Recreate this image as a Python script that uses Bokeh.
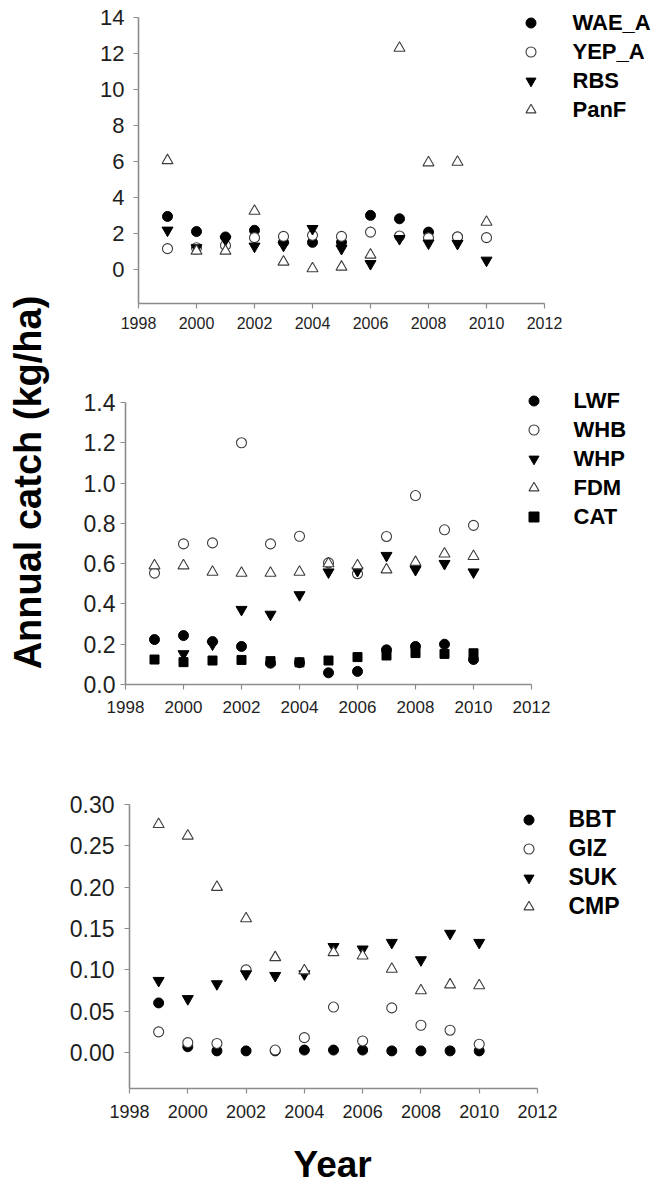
import numpy as np
from bokeh.plotting import figure
from bokeh.models import (Legend, LegendItem, FixedTicker, PrintfTickFormatter,
                          Label, Range1d, Spacer, Title)
from bokeh.layouts import row, column
from bokeh.embed import file_html
from bokeh.resources import INLINE

nan = float("nan")
years = [1999, 2000, 2001, 2002, 2003, 2004, 2005, 2006, 2007, 2008, 2009, 2010]
x_ticks = [1998, 2000, 2002, 2004, 2006, 2008, 2010, 2012]

# Panel 1
wae_a = [2.94, 2.10, 1.80, 2.17, 1.50, 1.50, 1.50, 3.00, 2.81, 2.07, 1.80, nan]
yep_a = [1.15, 1.20, 1.33, 1.76, 1.83, 1.89, 1.83, 2.07, 1.85, 1.75, 1.80, 1.76]
rbs = [2.17, 1.19, 1.65, 1.28, 1.33, 2.26, 1.15, 0.31, 1.70, 1.45, 1.43, 0.50]
panf = [6.05, 1.02, 1.02, 3.24, 0.41, 0.04, 0.13, 0.80, 12.30, 5.93, 5.96, 2.63]
y1_ticks = [0, 2, 4, 6, 8, 10, 12, 14]

# Panel 2
lwf = [0.223, 0.243, 0.213, 0.189, 0.106, 0.108, 0.058, 0.065, 0.172, 0.189, 0.200, 0.124]
whb = [0.553, 0.698, 0.703, 1.200, 0.698, 0.736, 0.604, 0.550, 0.735, 0.938, 0.768, 0.790]
whp = [nan, 0.152, 0.200, 0.372, 0.348, 0.445, 0.558, 0.565, 0.640, 0.570, 0.600, 0.558]
fdm = [0.590, 0.590, 0.558, 0.553, 0.553, 0.558, 0.600, 0.590, 0.570, 0.607, 0.649, 0.636]
cat = [0.124, 0.111, 0.119, 0.122, 0.116, 0.110, 0.119, 0.136, 0.144, 0.156, 0.152, 0.155]
y2_ticks = [0.0, 0.2, 0.4, 0.6, 0.8, 1.0, 1.2, 1.4]

# Panel 3
bbt = [0.060, 0.007, 0.002, 0.002, 0.002, 0.003, 0.003, 0.003, 0.002, 0.002, 0.002, 0.002]
giz = [0.025, 0.012, 0.011, 0.100, 0.003, 0.018, 0.055, 0.014, 0.054, 0.033, 0.027, 0.010]
suk = [0.087, 0.065, 0.083, 0.095, 0.093, 0.095, 0.128, 0.125, 0.133, 0.112, 0.144, 0.133]
cmp_ = [0.276, 0.262, 0.200, 0.162, 0.115, 0.099, 0.121, 0.117, 0.101, 0.075, 0.082, 0.081]
y3_ticks = [0.0, 0.05, 0.10, 0.15, 0.20, 0.25, 0.30]

FONT = "Liberation Sans"
AXIS_COL = "#8c8c8c"
OPEN_COL = "#3c3c3c"

STYLES = {
    "filled_circle": dict(marker="circle", size=10, fill_color="black", line_color="black"),
    "open_circle": dict(marker="circle", size=10, fill_color="white", line_color=OPEN_COL, line_width=1.1),
    "down_tri": dict(marker="inverted_triangle", size=11, fill_color="black", line_color="black"),
    "open_tri": dict(marker="triangle", size=11, fill_color="white", line_color=OPEN_COL, line_width=1.1),
    "square": dict(marker="square", size=9, fill_color="black", line_color="black"),
}

TOTAL_W = 657
LAB_W = 50
B_LEFT = 64


def make_panel(spacer, height, b_top, b_bottom, px_per_year, y0, y_axis_top, y_end,
               yticks, yfmt, ytick_size, xtick_size, ystand, xstand):
    width = TOTAL_W - LAB_W - spacer
    frame_w = width - B_LEFT
    x_end = 1998 + frame_w / px_per_year
    p = figure(width=width, height=height,
               x_range=Range1d(1998, x_end), y_range=Range1d(y0, y_end),
               output_backend="svg", toolbar_location=None,
               min_border_left=B_LEFT, min_border_right=0,
               min_border_top=b_top, min_border_bottom=b_bottom)
    p.grid.visible = False
    p.outline_line_color = None
    p.background_fill_color = "white"
    p.border_fill_color = "white"
    for ax in (p.xaxis[0], p.yaxis[0]):
        ax.axis_line_color = AXIS_COL
        ax.axis_line_width = 1.6
        ax.major_tick_line_color = AXIS_COL
        ax.major_tick_line_width = 1.2
        ax.major_tick_out = 5
        ax.major_tick_in = 0
        ax.minor_tick_line_color = None
        ax.major_label_text_font = FONT
        ax.major_label_text_color = "#1e1e1e"
    p.xaxis.bounds = (1998, 2012)
    p.xaxis.ticker = FixedTicker(ticks=x_ticks)
    p.xaxis.major_label_text_font_size = xtick_size
    p.xaxis.major_label_standoff = xstand
    p.yaxis.bounds = (y0, y_axis_top)
    p.yaxis.ticker = FixedTicker(ticks=yticks)
    p.yaxis.formatter = PrintfTickFormatter(format=yfmt)
    p.yaxis.major_label_text_font_size = ytick_size
    p.yaxis.major_label_standoff = ystand
    return p


def add_series(p, series, legend_loc, font_size, standoff, spacing):
    items = []
    for name, vals, style in series:
        r = p.scatter(x=np.array(years, dtype=float), y=np.array(vals, dtype=float), **STYLES[style])
        items.append(LegendItem(label=name, renderers=[r]))
    leg = Legend(items=items, location=legend_loc,
                 border_line_color=None, background_fill_alpha=0,
                 padding=0, margin=0, spacing=spacing,
                 glyph_width=25, glyph_height=25, label_height=25,
                 label_standoff=standoff,
                 label_text_font=FONT, label_text_font_style="bold",
                 label_text_font_size=font_size, label_text_color="black")
    p.add_layout(leg)


# Panel 1: page y 0..368, frame 10..303 (value 14 at y=17, 18 px per unit)
p1 = make_panel(24, 368, 10, 65, 29.0, -1.9, 14, 14 + 7 / 18.0,
                y1_ticks, "%d", "22px", "16px", 9, 8)
add_series(p1, [("WAE_A", wae_a, "filled_circle"), ("YEP_A", yep_a, "open_circle"),
                ("RBS", rbs, "down_tri"), ("PanF", panf, "open_tri")],
           (379.5, 180.5), "22px", 30, 3)

# Panel 2: page y 368..740, frame 385..684 (1.4 at y=402, 201.4 px per unit)
p2 = make_panel(11, 372, 17, 56, 29.0, 0, 1.4, 1.4 + 17 / 201.4,
                y2_ticks, "%.1f", "23px", "17px", 5, 11)
add_series(p2, [("LWF", lwf, "filled_circle"), ("WHB", whb, "open_circle"),
                ("WHP", whp, "down_tri"), ("FDM", fdm, "open_tri"),
                ("CAT", cat, "square")],
           (395.5, 154.5), "22px", 28, 3)

# Panel 3: page y 740..1186, frame 804..1088
p3 = make_panel(15, 446, 64, 98, 408 / 14.0, -0.0435, 0.30, 0.30,
                y3_ticks, "%.2f", "23px", "18px", 10, 11)
add_series(p3, [("BBT", bbt, "filled_circle"), ("GIZ", giz, "open_circle"),
                ("SUK", suk, "down_tri"), ("CMP", cmp_, "open_tri")],
           (386.5, 168.5), "23px", 28, 2)
# blank axis label used only as vertical room between tick labels and the title
p3.xaxis.axis_label = " "
p3.xaxis.axis_label_text_font_size = "1px"
p3.xaxis.axis_label_standoff = 17
p3.add_layout(Title(text="Year", align="left", offset=164, standoff=0,
                    text_font=FONT, text_font_style="bold", text_font_size="37px",
                    text_color="black"), "below")

# Shared y-axis title
lab = figure(width=LAB_W, height=1186, x_range=Range1d(0, LAB_W), y_range=Range1d(0, 1186),
             output_backend="svg", toolbar_location=None, min_border=0)
lab.axis.visible = False
lab.grid.visible = False
lab.outline_line_color = None
lab.add_layout(Label(x=27, y=1186 - 482, text="Annual catch (kg/ha)", angle=90, angle_units="deg",
                     text_align="center", text_baseline="middle", text_font=FONT,
                     text_font_style="bold", text_font_size="38px", text_color="black"))

layout = row(lab, column(row(Spacer(width=24, height=368), p1),
                         row(Spacer(width=11, height=372), p2),
                         row(Spacer(width=15, height=446), p3)))

with open("out.html", "w") as f:
    f.write(file_html(layout, INLINE))
